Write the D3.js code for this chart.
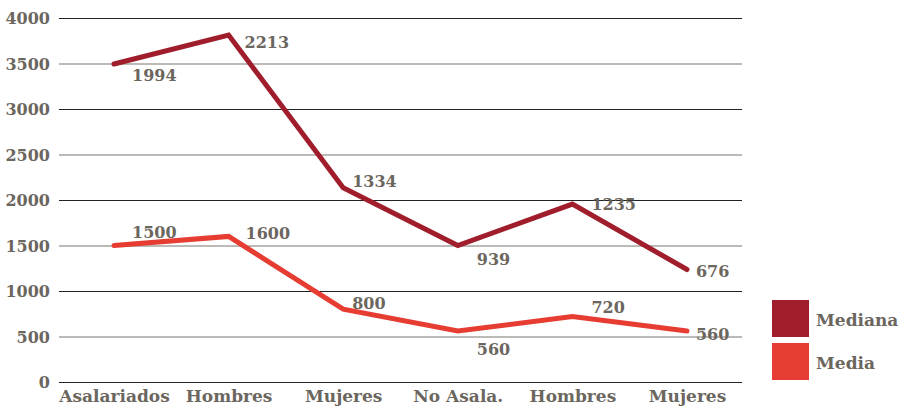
<!DOCTYPE html>
<html>
<head>
<meta charset="utf-8">
<script src="https://cdn.jsdelivr.net/npm/d3@7"></script>
<style>
  body { margin: 0; background: #fff; }
  text { font-family: "DejaVu Serif", serif; font-weight: bold; fill: #6b665e; }
</style>
</head>
<body>
<div id="chart"></div>
<script>
// categorias y valores
var categorias = ["Asalariados", "Hombres", "Mujeres", "No Asala.", "Hombres", "Mujeres"];
var media = [1500, 1600, 800, 560, 720, 560];
var mediana = [1994, 2213, 1334, 939, 1235, 676];
var yTicks = [0, 500, 1000, 1500, 2000, 2500, 3000, 3500, 4000];

// posicion de las etiquetas respecto al punto
var offMediana = [[18, 11], [16, 7], [9, -6], [19, 14], [19, 0], [9, 2]];
var offMedia = [[18, -13], [17, -3], [9, -6], [19, 18], [19, -9], [9, 3]];

var width = 899, height = 408;
var margin = {top: 18, right: 157, bottom: 26, left: 59};
var w = width - margin.left - margin.right,
    h = height - margin.top - margin.bottom;

var svg = d3.select("#chart").append("svg")
  .attr("width", width).attr("height", height);
var g = svg.append("g").attr("transform", "translate(" + margin.left + "," + margin.top + ")");

var x = d3.scalePoint().domain(d3.range(categorias.length)).range([0, w]).padding(0.48);
var y = d3.scaleLinear().domain([0, 4000]).range([h, 0]);

// lineas de cuadricula
g.selectAll(".grid").data(yTicks).enter().append("line")
  .attr("x1", 0).attr("x2", w)
  .attr("y1", function(d){ return y(d) + 0.5; })
  .attr("y2", function(d){ return y(d) + 0.5; })
  .attr("stroke", function(d){ return d % 1000 === 0 ? "#222" : "#7a766f"; })
  .attr("stroke-width", 1.2);

var yAxis = d3.axisLeft(y).tickValues(yTicks).tickFormat(d3.format("d")).tickSize(0).tickPadding(9);
g.append("g").call(yAxis).call(function(s){
  s.select(".domain").remove();
  s.selectAll("text").style("font-size", "16px").attr("dy", "0.35em");
});

var xAxis = d3.axisBottom(x).tickFormat(function(i){ return categorias[i]; }).tickSize(0).tickPadding(8);
g.append("g").attr("transform", "translate(0," + h + ")").call(xAxis).call(function(s){
  s.select(".domain").remove();
  s.selectAll("text").style("font-size", "17px");
});

// valores apilados
var stacked = media.map(function(v, i){ return v + mediana[i]; });

var line = d3.line().x(function(d, i){ return x(i); }).y(function(d){ return y(d); });

var series = [
  {name: "Mediana", vals: stacked, labels: mediana, off: offMediana, color: "#a01e2c"},
  {name: "Media", vals: media, labels: media, off: offMedia, color: "#e63c32"}
];

series.forEach(function(s){
  g.append("path").datum(s.vals)
    .attr("fill", "none").attr("stroke", s.color).attr("stroke-width", 5)
    .attr("stroke-linecap", "round").attr("stroke-linejoin", "miter")
    .attr("d", line);
  g.selectAll(null).data(s.vals).enter().append("text")
    .attr("x", function(d, i){ return x(i) + s.off[i][0]; })
    .attr("y", function(d, i){ return y(d) + s.off[i][1]; })
    .attr("dy", "0.35em")
    .style("font-size", "16px")
    .text(function(d, i){ return s.labels[i]; });
});

// leyenda
var leg = svg.append("g").attr("transform", "translate(772,300)");
series.forEach(function(s, i){
  leg.append("rect").attr("x", 0).attr("y", i * 43).attr("width", 37).attr("height", 37).attr("fill", s.color);
  leg.append("text").attr("x", 44).attr("y", i * 43 + 20).attr("dy", "0.35em")
    .style("font-size", "17px").text(s.name);
});
</script>
</body>
</html>
